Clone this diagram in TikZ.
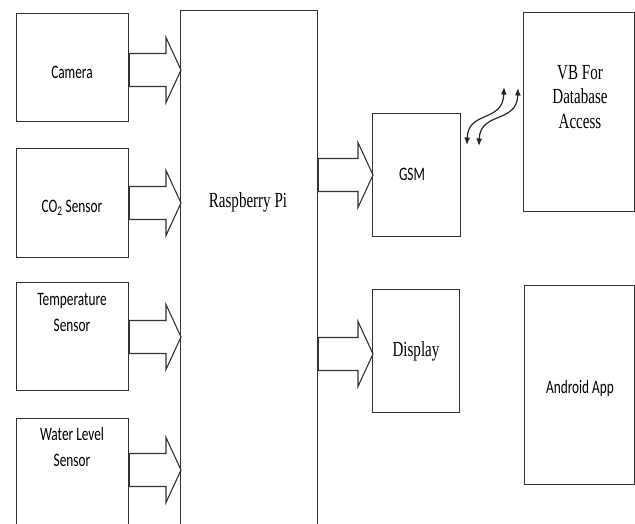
\documentclass[tikz,border=0pt]{standalone}
\usepackage{fontspec}
\setmainfont{Liberation Serif}[FakeStretch=0.7]
\newfontfamily\calib{Carlito}[FakeStretch=0.7]
\usetikzlibrary{arrows.meta,calc}
\newcommand{\fatarrow}[3]{%
  \draw[arr] ($(#1.east |- 0,#3)+(0,-16.5)$) -- ($(#2.west |- 0,#3)+(-14,-16.5)$)
    -- ($(#2.west |- 0,#3)+(-14,-32.5)$) -- ($(#2.west |- 0,#3)+(1,0)$)
    -- ($(#2.west |- 0,#3)+(-14,32.5)$) -- ($(#2.west |- 0,#3)+(-14,16.5)$)
    -- ($(#1.east |- 0,#3)+(0,16.5)$) -- cycle;}
\begin{document}
\begin{tikzpicture}[x=1pt,y=-1pt,
  box/.style={draw=black!80,line width=1.3pt,inner sep=0pt,anchor=north west},
  arr/.style={draw=black!80,line width=1.1pt,line join=miter},
  sanstext/.style={font=\calib\fontsize{19}{26}\selectfont,align=center,inner sep=0pt},
  seriftext/.style={font=\fontsize{21.5}{24.5}\selectfont,align=center,inner sep=0pt},
  wave/.style={draw=black!85,line width=1.2pt,{Latex[length=7.5pt,width=6pt]}-{Latex[length=7.5pt,width=6pt]}}]
\useasboundingbox (0,0) rectangle (635,523);
\clip (0,0) rectangle (635,523);
% boxes
\node[box,minimum width=112pt,minimum height=108pt] (cam) at (16,13) {};
\node[box,minimum width=112pt,minimum height=109pt] (co2) at (16,148) {};
\node[box,minimum width=112pt,minimum height=108pt] (temp) at (16,282) {};
\node[box,minimum width=112pt,minimum height=120pt] (water) at (16,418) {};
\node[box,minimum width=137pt,minimum height=530pt] (pi) at (180,10) {};
\node[box,minimum width=88pt,minimum height=123pt] (gsm) at (372,113) {};
\node[box,minimum width=87pt,minimum height=123pt] (disp) at (372,289) {};
\node[box,minimum width=111pt,minimum height=199pt] (vb) at (523,12) {};
\node[box,minimum width=110pt,minimum height=199pt] (app) at (524,285) {};
% texts
\node[sanstext] (camT) at (72,72) {Camera};
\node[sanstext] (co2T) at (72,208) {CO\textsubscript{2} Sensor};
\node[sanstext] (tempT) at (72,312) {Temperature\\Sensor};
\node[sanstext] (waterT) at (72,447) {Water Level\\Sensor};
\node[seriftext] (piT) at (248,202) {Raspberry Pi};
\node[sanstext] (gsmT) at (412,174) {GSM};
\node[seriftext] (dispT) at (416,351) {Display};
\node[seriftext] (vbT) at (580,97) {VB For\\Database\\Access};
\node[sanstext] (appT) at (580,388) {Android App};
% block arrows
\fatarrow{cam}{pi}{70}
\fatarrow{co2}{pi}{203}
\fatarrow{temp}{pi}{337}
\fatarrow{water}{pi}{470}
\fatarrow{pi}{gsm}{175}
\fatarrow{pi}{disp}{354}
% wavy arrows
\coordinate (w1a) at (467,145);
\coordinate (w1b) at (504,87);
\coordinate (w2a) at (479,146);
\coordinate (w2b) at (518,88);
\draw[wave] (w1a) .. controls (468,110) and (503,123) .. (w1b);
\draw[wave] (w2a) .. controls (480,111) and (517,124) .. (w2b);
\end{tikzpicture}
\end{document}
